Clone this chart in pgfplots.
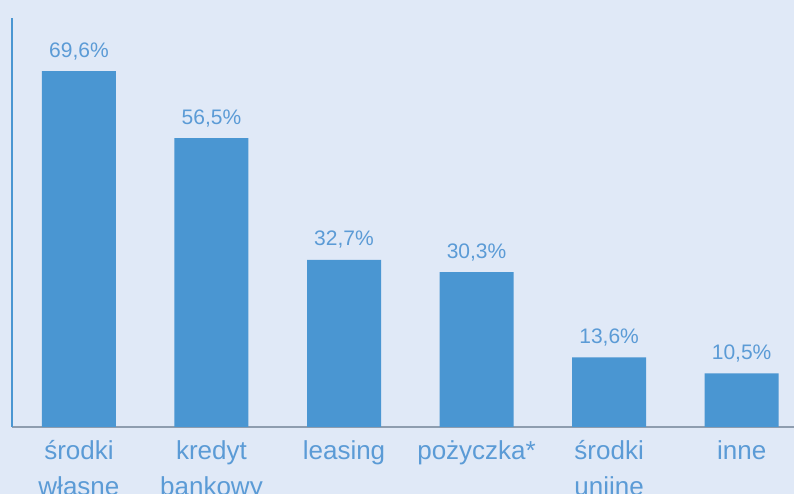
\documentclass[border=0pt]{standalone}
\usepackage{pgfplots}
\pgfplotsset{compat=1.18}
\usepackage{fontspec}
\setmainfont{Liberation Sans}
\definecolor{bg}{HTML}{E0E9F7}
\definecolor{barblue}{HTML}{4A96D2}
\definecolor{lbl}{HTML}{5B9BD6}
\definecolor{axisgray}{HTML}{8E9DAF}
\begin{document}
\begin{tikzpicture}
\useasboundingbox (0,0) rectangle (794pt,494pt);
\clip (0,0) rectangle (794pt,494pt);
\fill[bg] (0,0) rectangle (794pt,494pt);
\begin{axis}[
  at={(12pt,67pt)}, anchor=south west,
  scale only axis, width=782pt, height=409pt,
  xmin=-0.505, xmax=5.395, ymin=0, ymax=80,
  axis x line=bottom, axis y line=left,
  axis line style={-},
  x axis line style={color=axisgray, line width=1.2pt},
  y axis line style={color=barblue, line width=1.2pt},
  ytick=\empty,
  xtick={0,1,2,3,4,5},
  xticklabels={{środki\\własne},{kredyt\\bankowy},{leasing},{pożyczka*},{środki\\unijne},{inne}},
  major tick length=0pt,
  xticklabel style={align=center, font=\fontsize{26}{36}\selectfont, text=lbl, inner sep=0pt, yshift=-13pt},
  ybar, bar width=74pt,
  /pgf/number format/assume math mode=true,
  nodes near coords={\pgfmathprintnumber[fixed,fixed zerofill,precision=1,use comma,assume math mode=true]{\pgfplotspointmeta}\%},
  every node near coord/.append style={font=\fontsize{21}{25}\selectfont, text=lbl, inner sep=0pt, anchor=base, yshift=14pt},
]
\addplot[fill=barblue, draw=none] coordinates {(0,69.6) (1,56.5) (2,32.7) (3,30.3) (4,13.6) (5,10.5)};
\end{axis}
\end{tikzpicture}
\end{document}
